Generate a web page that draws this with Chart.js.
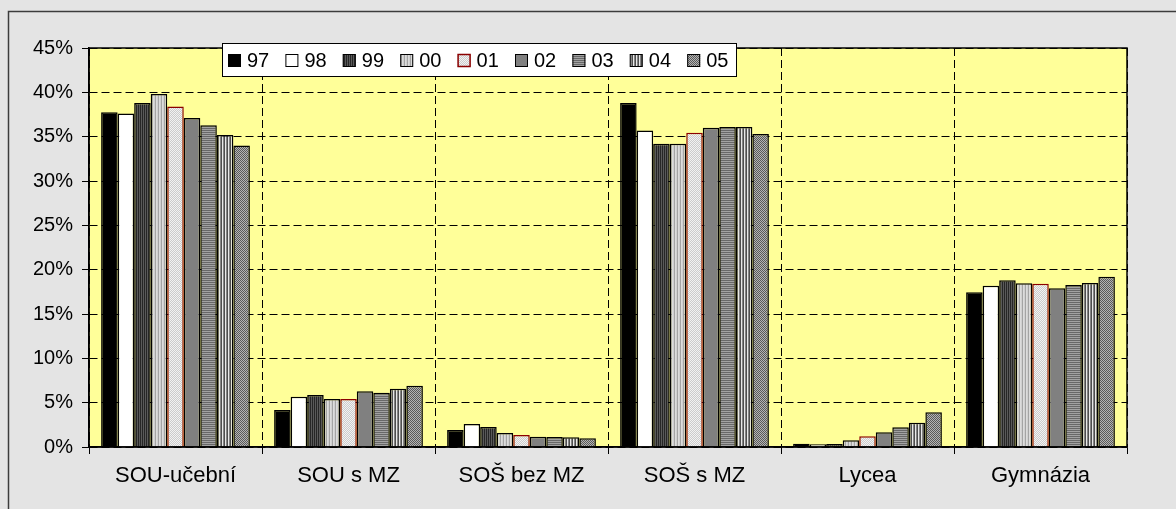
<!DOCTYPE html>
<html>
<head>
    <meta charset="utf-8">
    <title>Podíl žáků podle typu školy</title>
    <script src="https://cdn.jsdelivr.net/npm/chart.js"></script>
    <style>
        html, body { margin: 0; padding: 0; background: #e4e4e4; }
        #wrap { width: 1176px; height: 509px; }
    </style>
</head>
<body>
    <div id="wrap"><canvas id="barChart" width="1176" height="509"></canvas></div>

    <script>
        // categories + tick labels
        var categories = ["SOU-učební", "SOU s MZ", "SOŠ bez MZ", "SOŠ s MZ", "Lycea", "Gymnázia"];
        var years = ["97", "98", "99", "00", "01", "02", "03", "04", "05"];
        var yTicks = [0, 5, 10, 15, 20, 25, 30, 35, 40, 45];

        // share in % per year
        var v97 = [37.75, 4.17, 1.92, 38.8, 0.37, 17.45];
        var v98 = [37.6, 5.67, 2.6, 35.7, 0.3, 18.2];
        var v99 = [38.8, 5.86, 2.26, 34.2, 0.33, 18.8];
        var v00 = [39.8, 5.41, 1.58, 34.2, 0.75, 18.46];
        var v01 = [38.4, 5.41, 1.35, 35.45, 1.2, 18.4];
        var v02 = [37.1, 6.3, 1.17, 36.0, 1.65, 17.9];
        var v03 = [36.3, 6.13, 1.13, 36.1, 2.22, 18.27];
        var v04 = [35.2, 6.58, 1.09, 36.1, 2.74, 18.5];
        var v05 = [34.0, 6.92, 0.98, 35.3, 3.91, 19.2];
        var series = [v97, v98, v99, v00, v01, v02, v03, v04, v05];

        // small pixel patterns like the old excel fills
        function makePattern(w, h, cells) {
            var c = document.createElement("canvas");
            c.width = w; c.height = h;
            var x = c.getContext("2d");
            for (var i = 0; i < cells.length; i++) {
                x.fillStyle = cells[i][2];
                x.fillRect(cells[i][0], cells[i][1], 1, 1);
            }
            return x.createPattern(c, "repeat");
        }

        var fills = [
            "#000000",
            "#ffffff",
            makePattern(2, 1, [[0, 0, "#262626"], [1, 0, "#5a5a5a"]]),
            makePattern(3, 1, [[0, 0, "#dcdcdc"], [1, 0, "#d0d0d0"], [2, 0, "#a4a4a4"]]),
            makePattern(2, 2, [[0, 0, "#f2f2f2"], [1, 0, "#cccccc"], [0, 1, "#cccccc"], [1, 1, "#f2f2f2"]]),
            "#808080",
            makePattern(1, 2, [[0, 0, "#686868"], [0, 1, "#a2a2a2"]]),
            makePattern(3, 1, [[0, 0, "#e8e8e8"], [1, 0, "#858585"], [2, 0, "#4e4e4e"]]),
            makePattern(2, 2, [[0, 0, "#5a5a5a"], [1, 0, "#b4b4b4"], [0, 1, "#b4b4b4"], [1, 1, "#5a5a5a"]])
        ];
        var borders = ["#000", "#000", "#000", "#000", "#8b0000", "#000", "#000", "#000", "#000"];

        var datasets = years.map(function (y, i) {
            return {
                label: y,
                data: series[i],
                backgroundColor: fills[i],
                borderColor: borders[i],
                borderWidth: 1.5,
                borderSkipped: "start",
                categoryPercentage: 0.86,
                barPercentage: 1.0
            };
        });

        var frame = {
            id: "frame",
            beforeDraw: function (chart) {
                var ctx = chart.ctx, a = chart.chartArea;
                ctx.save();
                ctx.fillStyle = "#e4e4e4";
                ctx.fillRect(0, 0, chart.width, chart.height);
                ctx.strokeStyle = "#3c3c3c";
                ctx.lineWidth = 1.5;
                ctx.strokeRect(8.5, 11.5, 1300, 600);
                ctx.fillStyle = "#ffff99";
                ctx.fillRect(a.left, a.top, a.right - a.left, a.bottom - a.top);
                ctx.restore();
            },
            afterDraw: function (chart) {
                var ctx = chart.ctx, a = chart.chartArea;
                ctx.save();
                ctx.strokeStyle = "#000";
                ctx.lineWidth = 1.5;
                ctx.strokeRect(a.left, a.top, a.right - a.left, a.bottom - a.top);

                // legend box
                var lx = 222.5, ly = 43.5, step = 57.4;
                ctx.fillStyle = "#fff";
                ctx.fillRect(lx, ly, 514, 33);
                ctx.lineWidth = 1;
                ctx.strokeRect(lx, ly, 514, 33);
                ctx.font = "20px 'Liberation Sans', Arial, sans-serif";
                ctx.textBaseline = "middle";
                chart.data.datasets.forEach(function (ds, i) {
                    var sx = 228 + i * step;
                    ctx.fillStyle = ds.backgroundColor;
                    ctx.fillRect(sx, 54, 13, 13);
                    ctx.strokeStyle = ds.borderColor;
                    ctx.lineWidth = ds.borderColor === "#8b0000" ? 1.5 : 1;
                    ctx.strokeRect(sx + 0.5, 54.5, 12, 12);
                    ctx.fillStyle = "#000";
                    ctx.fillText(ds.label, sx + 19, 61);
                });
                ctx.restore();
            }
        };

        var ctx = document.getElementById("barChart").getContext("2d");
        var chart = new Chart(ctx, {
            type: "bar",
            data: { labels: categories, datasets: datasets },
            options: {
                responsive: false,
                animation: false,
                layout: { padding: { left: 8, top: 48, right: 49, bottom: 0 } },
                plugins: { legend: { display: false }, tooltip: { enabled: false } },
                scales: {
                    x: {
                        grid: { color: "#000", lineWidth: 1, offset: true, tickLength: 7, tickColor: "#000" },
                        border: { display: true, color: "#000", width: 1.5, dash: [8, 4] },
                        ticks: {
                            color: "#000",
                            padding: 9,
                            maxRotation: 0,
                            font: { family: "'Liberation Sans', Arial, sans-serif", size: 22 }
                        },
                        afterFit: function (s) { s.height = 62; }
                    },
                    y: {
                        min: 0,
                        max: 45,
                        afterBuildTicks: function (s) {
                            s.ticks = yTicks.map(function (v) { return { value: v }; });
                        },
                        grid: { color: "#000", lineWidth: 1, tickLength: 7, tickColor: "#000" },
                        border: { display: true, color: "#000", width: 1.5, dash: [8, 4] },
                        ticks: {
                            color: "#000",
                            padding: 9,
                            callback: function (v) { return v + "%"; },
                            font: { family: "'Liberation Sans', Arial, sans-serif", size: 20 }
                        },
                        afterFit: function (s) { s.width = 81; }
                    }
                }
            },
            plugins: [frame]
        });
    </script>
</body>
</html>
